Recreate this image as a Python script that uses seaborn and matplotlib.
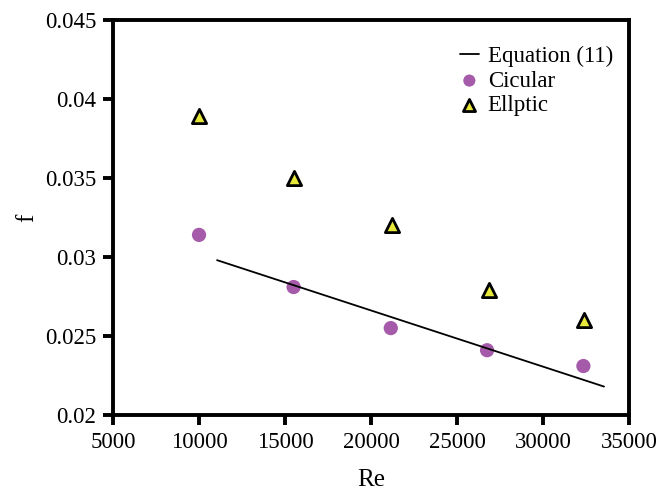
import matplotlib
matplotlib.use("Agg")
import matplotlib.pyplot as plt
import seaborn as sns
import pandas as pd

re_circ = [10000, 15500, 21150, 26750, 32350]
f_circ = [0.0314, 0.0281, 0.0255, 0.0241, 0.0231]
re_ell = [10000, 15550, 21200, 26850, 32400]
f_ell = [0.0389, 0.0350, 0.0320, 0.0279, 0.0260]
re_eq = [11050, 33550]
f_eq = [0.0298, 0.0218]

sns.set_theme(style="white")
plt.rcParams['font.family'] = ['Liberation Serif', 'DejaVu Serif']
plt.rcParams['text.color'] = 'black'
plt.rcParams['axes.labelcolor'] = 'black'

fig = plt.figure(figsize=(6.66, 4.93), dpi=100)
ax = fig.add_axes([0.1697, 0.1582, 0.7747, 0.8012])

sns.lineplot(x=re_eq, y=f_eq, ax=ax, color='black', linewidth=1.3, label='Equation (11)')
sns.scatterplot(x=re_circ, y=f_circ, ax=ax, color='#a55aaa', s=105, edgecolor='none',
                marker='o', label='Cicular')
sns.scatterplot(x=re_ell, y=f_ell, ax=ax, color='#e8e83a', s=105, edgecolor='black',
                linewidth=2, marker='^', label='Ellptic')

ax.set_xlim(5000, 35000)
ax.set_ylim(0.02, 0.045)
ax.set_xticks([5000, 10000, 15000, 20000, 25000, 30000, 35000])
ax.set_yticks([0.02, 0.025, 0.03, 0.035, 0.04, 0.045])
ax.set_yticklabels(['0.02', '0.025', '0.03', '0.035', '0.04', '0.045'])
ax.set_xlabel('Re', fontsize=18, labelpad=12, color='black')
ax.set_ylabel('f', fontsize=18, labelpad=5, color='black')
for s in ax.spines.values():
    s.set_linewidth(2.8)
    s.set_color('black')
ax.tick_params(axis='both', direction='out', length=7, width=2.8, labelsize=16.5,
               bottom=True, left=True, colors='black', pad=5)
ax.grid(False)

leg = ax.legend(loc='upper right', frameon=False, fontsize=16.5, handlelength=0.8,
                handletextpad=0.4, borderaxespad=0.3, labelspacing=0.15,
                bbox_to_anchor=(1.0, 0.975), markerscale=0.85)
for t in leg.get_texts():
    t.set_color('black')

fig.savefig('out.png', dpi=100)
